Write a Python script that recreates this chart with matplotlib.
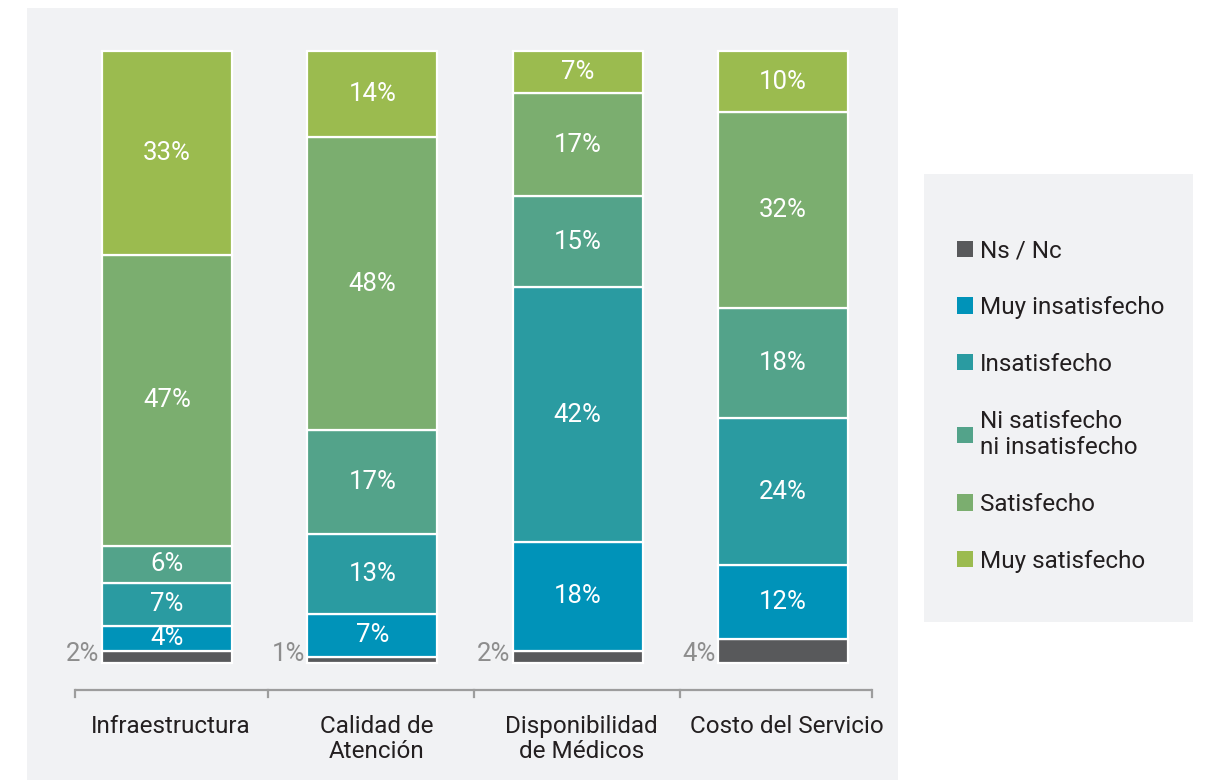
import numpy as np
import matplotlib.pyplot as plt
from matplotlib.patches import Rectangle, Patch

plt.rcParams['font.family'] = ['Roboto', 'DejaVu Sans']

# Satisfaction survey, share of answers per aspect (%)
categories = ['Infraestructura', 'Calidad de\nAtención', 'Disponibilidad\nde Médicos', 'Costo del Servicio']
levels = ['Ns / Nc', 'Muy insatisfecho', 'Insatisfecho',
          'Ni satisfecho\nni insatisfecho', 'Satisfecho', 'Muy satisfecho']
ns_nc = [2, 1, 2, 4]
muy_insatisfecho = [4, 7, 18, 12]
insatisfecho = [7, 13, 42, 24]
ni_ni = [6, 17, 15, 18]
satisfecho = [47, 48, 17, 32]
muy_satisfecho = [33, 14, 7, 10]

colors = ['#58595b', '#0093b9', '#2a9ba1', '#53a38a', '#7bae6f', '#9bbb4f']
panel = '#f1f2f4'

series = np.array([ns_nc, muy_insatisfecho, insatisfecho, ni_ni, satisfecho, muy_satisfecho], dtype=float)
# every column is scaled to a full 100% bar
heights = series / series.sum(axis=0) * 100

fig = plt.figure(figsize=(12.05, 7.8), dpi=100)
fig.patch.set_facecolor('white')
W, H = 1205, 780

ax = fig.add_axes([27 / W, 0, (898 - 27) / W, (780 - 8) / H])
ax.set_facecolor(panel)

x = np.arange(len(categories))
width = 0.633
bottom = np.zeros(len(categories))
for i, (h, c) in enumerate(zip(heights, colors)):
    ax.bar(x, h, width, bottom=bottom, color=c, edgecolor='white', linewidth=1.6)
    for j in range(len(categories)):
        if i == 0:
            ax.text(x[j] - width / 2 - 0.012, bottom[j] + 0.3, f'{series[i, j]:.0f}%',
                    ha='right', va='baseline', color='#8d8d8d', fontsize=18.5)
        else:
            ax.text(x[j], bottom[j] + h[j] / 2, f'{series[i, j]:.0f}%',
                    ha='center', va='center', color='white', fontsize=18.5)
    bottom += h

# category axis with separators
px = 100 / 612
ax_y = -(690 - 663) * px
ax.plot([-0.448, 3.433], [ax_y, ax_y], color='#9d9d9d', lw=1.6, solid_capstyle='butt')
for t in [-0.448, 0.492, 1.495, 2.498, 3.433]:
    ax.plot([t, t], [ax_y, ax_y - 7 * px], color='#9d9d9d', lw=1.6)
for j, cat in enumerate(categories):
    ax.text(x[j] + 0.02, -(715 - 663) * px, cat, ha='center', va='top',
            color='#231f20', fontsize=17.5, linespacing=1.1)

ax.set_xlim((27 - 167) / 205.33, 3 + (898 - 783) / 205.33)
ax.set_ylim(-(780 - 663) * px, 100 + (51 - 8) * px)
for s in ax.spines.values():
    s.set_visible(False)
ax.set_xticks([])
ax.set_yticks([])

# legend panel
fig.patches.append(Rectangle((924 / W, 1 - 622 / H), (1193 - 924) / W, (622 - 174) / H,
                             transform=fig.transFigure, facecolor=panel, edgecolor='none', zorder=0))
handles = [Patch(facecolor=c, edgecolor='none') for c in colors]
fig.legend(handles[::-1], levels[::-1], loc='center left', bbox_to_anchor=(935 / W, 1 - 406 / H),
           frameon=False, fontsize=17.5, handlelength=0.66, handleheight=0.66, handletextpad=0.3,
           labelspacing=1.39, labelcolor='#231f20', reverse=True)

fig.savefig('out.png', dpi=100, facecolor=fig.get_facecolor())
